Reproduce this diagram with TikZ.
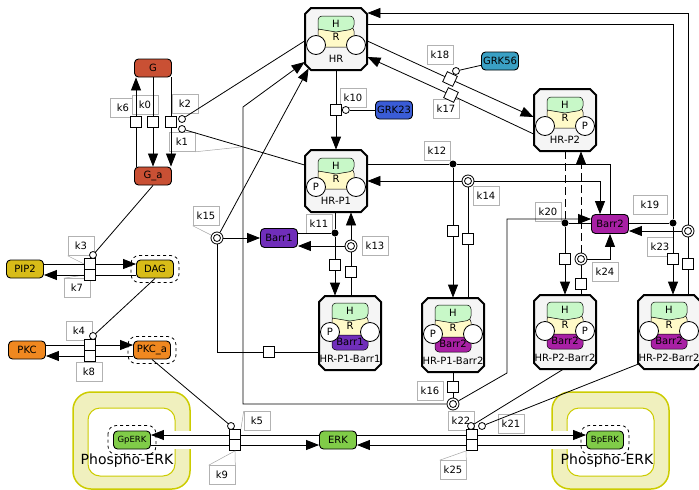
\documentclass[tikz,border=0pt]{standalone}
\usepackage{fontspec}
\setmainfont{DejaVu Sans}
\usepackage{xcolor}
\usepackage{tikz}
\usetikzlibrary{arrows.meta,positioning}

\definecolor{gcol}{RGB}{201,80,52}
\definecolor{grkfs}{RGB}{58,160,196}
\definecolor{grktt}{RGB}{58,92,214}
\definecolor{barrone}{RGB}{112,46,186}
\definecolor{barrtwo}{RGB}{168,32,164}
\definecolor{pipcol}{RGB}{216,188,24}
\definecolor{pkccol}{RGB}{240,136,32}
\definecolor{erkcol}{RGB}{128,204,72}
\definecolor{hcol}{RGB}{200,248,200}
\definecolor{rcol}{RGB}{255,250,200}
\definecolor{compfill}{RGB}{240,240,190}
\definecolor{compline}{RGB}{204,204,0}

% HR complex without arrestin
\newcommand{\hrplain}[5]{%
  \node[cplxanchor, minimum height=62pt] (#1) at #2 {};
  \begin{scope}[shift={(#1.center)}]
    \draw[cplxline] (-25,-31) -- (25,-31) -- (31,-25) -- (31,25) -- (25,31)
      -- (-25,31) -- (-31,25) -- (-31,-25) -- cycle;
    \draw[rpart] (-18,-12) -- (-18,8) -- (18,8) -- (18,-12) -- cycle;
    \draw[hpart] (-18,-10) [rounded corners=4pt] -- (-18,-23) -- (18,-23)
      -- (18,-10) [sharp corners] -- (0,-7) -- cycle;
    \node (#1-h) at (0,-15) {H};
    \node (#1-r) at (0,-2) {R};
    \node[site] (#1-ls) at (-20,6) {#4};
    \node[site] (#1-rs) at (20,6) {#5};
    \node (#1-lab) at (0,20) {#3};
  \end{scope}}

% HR complex with arrestin
\newcommand{\hrbarr}[7]{%
  \node[cplxanchor, minimum height=74pt] (#1) at #2 {};
  \begin{scope}[shift={(#1.center)}]
    \draw[cplxline] (-25,-37) -- (25,-37) -- (31,-31) -- (31,31) -- (25,37)
      -- (-25,37) -- (-31,31) -- (-31,-31) -- cycle;
    \draw[rpart] (-18,-17) -- (-18,6) -- (18,6) -- (18,-17) -- cycle;
    \draw[draw=black, line width=0.5pt, fill=#6] (-18,2) [rounded corners=4pt]
      -- (-18,17) -- (18,17) -- (18,2) [sharp corners] -- cycle;
    \node (#1-b) at (0,9) {#7};
    \draw[hpart] (-18,-15) [rounded corners=4pt] -- (-18,-30) -- (18,-30)
      -- (18,-15) [sharp corners] -- (0,-12) -- cycle;
    \node (#1-h) at (0,-22) {H};
    \node (#1-r) at (0,-7) {R};
    \node[site] (#1-ls) at (-20,-1) {#4};
    \node[site] (#1-rs) at (20,-1) {#5};
    \node (#1-lab) at (0,26) {#3};
  \end{scope}}

\begin{document}
\begin{tikzpicture}[x=1pt, y=-1pt, line width=0.8pt,
  font=\fontsize{10}{11}\selectfont,
  ent/.style={draw, line width=0.9pt, rounded corners=4pt, minimum width=37pt,
    minimum height=18pt, inner sep=0pt},
  clone/.style={dashed, rounded corners=8pt, line width=0.8pt},
  cplxanchor/.style={rectangle, draw=none, minimum width=62pt, inner sep=0pt},
  cplxline/.style={draw, line width=2pt, fill=black!4},
  hpart/.style={fill=hcol, draw=black, line width=0.5pt},
  rpart/.style={fill=rcol, draw=black, line width=0.5pt, rounded corners=4pt},
  site/.style={circle, draw, fill=white, line width=0.8pt, minimum size=19pt, inner sep=0pt},
  proc/.style={draw, fill=white, line width=0.8pt, minimum size=11pt, inner sep=0pt},
  assoc/.style={circle, fill=black, minimum size=7pt, inner sep=0pt},
  dissoc/.style={circle, draw, fill=white, minimum size=12pt, inner sep=0pt,
    path picture={\draw (path picture bounding box.center) circle (3.5pt);}},
  cat/.style={circle, draw, fill=white, minimum size=7pt, inner sep=0pt},
  klabel/.style={draw=black!30, fill=white, line width=0.6pt, minimum width=26pt,
    minimum height=19pt, inner sep=2pt},
  leader/.style={draw=black!35, line width=0.5pt},
  prod/.style={-{Triangle[length=13pt,width=10pt]}},
  comp/.style={fill=compfill, draw=compline, line width=1.5pt, rounded corners=18pt},
  compin/.style={fill=white, draw=compline, line width=1pt, rounded corners=12pt}]
\useasboundingbox (0,0) rectangle (699,490);

% compartments
\draw[comp] (73,392) rectangle (190,489);
\draw[compin] (88,408) rectangle (175,476);
\draw[comp] (552,392) rectangle (669,489);
\draw[compin] (567,408) rectangle (654,476);
\fill[white] (174,431) rectangle (191,449);
\fill[white] (551,431) rectangle (568,449);
\node[font=\fontsize{14}{16}\selectfont] (phosL) at (127,461) {Phospho-ERK};
\node[font=\fontsize{14}{16}\selectfont] (phosR) at (607,461) {Phospho-ERK};

% reaction labels
\node[klabel] (k6) at (123,108) {k6};
\node[klabel] (k0) at (145,105) {k0};
\node[klabel] (k2) at (185,104) {k2};
\node[klabel] (k1) at (182,142) {k1};
\node[klabel] (k10) at (353,98) {k10};
\node[klabel] (k18) at (440,55) {k18};
\node[klabel] (k17) at (446,109) {k17};
\node[klabel] (k12) at (437,151) {k12};
\node[klabel] (k14) at (486,196) {k14};
\node[klabel] (k15) at (206,216) {k15};
\node[klabel] (k11) at (319,224) {k11};
\node[klabel] (k13) at (375,246) {k13};
\node[klabel] (k20) at (548,212) {k20};
\node[klabel, minimum width=34pt] (k19) at (650,205) {k19};
\node[klabel] (k23) at (660,247) {k23};
\node[klabel] (k24) at (605,272) {k24};
\node[klabel] (k3) at (81,246) {k3};
\node[klabel] (k7) at (77,288) {k7};
\node[klabel] (k4) at (79,331) {k4};
\node[klabel] (k8) at (89,372) {k8};
\node[klabel] (k16) at (430,391) {k16};
\node[klabel] (k5) at (257,421) {k5};
\node[klabel] (k9) at (222,475) {k9};
\node[klabel] (k22) at (461,421) {k22};
\node[klabel] (k21) at (511,424) {k21};
\node[klabel] (k25) at (453,470) {k25};

% species
\node[ent, fill=gcol] (G) at (153,68) {G};
\node[ent, fill=gcol] (Ga) at (153,176) {G\_a};
\node[ent, fill=grkfs] (GRKfs) at (500,61) {GRK56};
\node[ent, fill=grktt] (GRKtt) at (394,110) {GRK23};
\node[ent, fill=barrone, minimum height=19pt] (BarrI) at (279,238) {Barr1};
\node[ent, fill=barrtwo, minimum height=19pt] (BarrII) at (610,224) {Barr2};
\node[ent, fill=pipcol] (PIPtwo) at (25,269) {PIP2};
\node[ent, fill=pipcol] (DAG) at (155,269) {DAG};
\node[ent, fill=pkccol] (PKC) at (27,350) {PKC};
\node[ent, fill=pkccol] (PKCa) at (152,350) {PKC\_a};
\node[ent, fill=erkcol] (ERK) at (338,440) {ERK};
\node[ent, fill=erkcol, font=\fontsize{8.5}{9}\selectfont] (GpERK) at (132,440) {GpERK};
\node[ent, fill=erkcol, font=\fontsize{8.5}{9}\selectfont] (BpERK) at (605,440) {BpERK};
\draw[clone] ([shift={(-5pt,4pt)}]DAG.north west) rectangle ([shift={(5pt,-4pt)}]DAG.south east);
\draw[clone] ([shift={(-5pt,4pt)}]PKCa.north west) rectangle ([shift={(5pt,-4pt)}]PKCa.south east);
\draw[clone] ([shift={(-5pt,5pt)}]GpERK.north west) rectangle ([shift={(5pt,-5pt)}]GpERK.south east);
\draw[clone] ([shift={(-5pt,5pt)}]BpERK.north west) rectangle ([shift={(5pt,-5pt)}]BpERK.south east);

% receptor complexes
\hrplain{HR}{(336,39)}{HR}{}{}
\hrplain{HRPone}{(336,181)}{HR-P1}{P}{}
\hrplain{HRPtwo}{(565,120)}{HR-P2}{}{P}
\hrbarr{HRPoneBone}{(350,333)}{HR-P1-Barr1}{P}{}{barrone}{Barr1}
\hrbarr{HRPoneBtwo}{(453,335)}{HR-P1-Barr2}{P}{}{barrtwo}{Barr2}
\hrbarr{HRPtwoBtwoA}{(565,332)}{HR-P2-Barr2}{}{P}{barrtwo}{Barr2}
\hrbarr{HRPtwoBtwoB}{(669,332)}{HR-P2-Barr2}{}{}{barrtwo}{Barr2}

% process nodes
\node[proc] (p6) at (136,122) {};
\node[proc] (p0) at (153,122) {};
\node[proc] (p1) at (171,122) {};
\node[proc] (p3) at (90,264) {};
\node[proc] (p7) at (90,275) {};
\node[proc] (p4) at (90,345) {};
\node[proc] (p8) at (90,356) {};
\node[proc] (p10) at (336,110) {};
\node[proc, rotate=-25] (p18) at (450,79) {};
\node[proc, rotate=-25] (p17) at (451,95) {};
\node[proc] (p11) at (335,265) {};
\node[proc] (p13) at (351,272) {};
\node[proc] (p12) at (453,231) {};
\node[proc] (p14) at (468,239) {};
\node[proc] (p15) at (269,352) {};
\node[proc] (p16) at (453,387) {};
\node[proc] (p20) at (565,259) {};
\node[proc] (p24) at (581,284) {};
\node[proc] (p19) at (673,259) {};
\node[proc] (p23) at (688,264) {};
\node[proc] (p5) at (235,435) {};
\node[proc] (p9) at (235,445) {};
\node[proc] (p22) at (472,435) {};
\node[proc] (p25) at (472,445) {};

% modulation circles, association and dissociation glyphs
\node[cat] (c2) at (182,119) {};
\node[cat] (c1) at (182,129) {};
\node[cat] (c3) at (93,255) {};
\node[cat] (c4) at (93,336) {};
\node[cat, right=0pt of p10] (c10) {};
\node[cat] (c18) at (456,71) {};
\node[cat] (c5) at (231,426) {};
\node[cat] (c22) at (471,426) {};
\node[cat] (c21) at (482,426) {};
\node[assoc] (d11) at (335,233) {};
\node[assoc] (d12) at (453,164) {};
\node[assoc] (d20) at (565,223) {};
\node[assoc] (d19) at (673,223) {};
\node[dissoc] (c13) at (351,246) {};
\node[dissoc] (c14) at (468,181) {};
\node[dissoc] (c15) at (217,238) {};
\node[dissoc] (c16) at (453,404) {};
\node[dissoc] (c23) at (688,231) {};
\node[dissoc] (c24) at (581,259) {};
\coordinate (k16bend) at (243,107);
\coordinate (k16up) at (507,373);
\coordinate (k1tip) at (241,147);

% label pointers
\draw[leader] (k1.south east) -- (k1tip);
\draw[leader] (k5.north west) -- (p5.north east);
\draw[leader] (k9.north west) -- (p9.south) -- (k9.north east);
\draw[leader] (k25.north west) -- (p25.south west) -- (k25.north east);
\draw[leader] (k15.south west) -- (c15);
\draw[leader] (k3.south west) -- (p3.west);
\draw[leader] (k7.north west) -- (p7.west);

% G activation
\draw (p6 |- Ga.north) -- (p6);
\draw[prod] (p6) -- (p6 |- G.south);
\draw (p0 |- G.south) -- (p0);
\draw[prod] (p0) -- (p0 |- Ga.north);
\draw (p1 |- G.south) -- (p1);
\draw[prod] (p1) -- (p1 |- Ga.north);
\draw (c2) -- ([yshift=-2pt]HR.west);
\draw (c1) -- ([yshift=16pt]HRPone.west);
% PIP2 / DAG
\draw (PIPtwo.east |- p3) -- (p3);
\draw[prod] (p3) -- (DAG.west |- p3);
\draw (DAG.west |- p7) -- (p7);
\draw[prod] (p7) -- (PIPtwo.east |- p7);
\draw (Ga.south) -- (c3);
% PKC
\draw (PKC.east |- p4) -- (p4);
\draw[prod] (p4) -- (PKCa.west |- p4);
\draw (PKCa.west |- p8) -- (p8);
\draw[prod] (p8) -- (PKC.east |- p8);
\draw (DAG.south) -- (c4);
% ERK phosphorylation
\draw (ERK.west |- p5) -- (p5);
\draw[prod] (p5) -- (GpERK.east |- p5);
\draw (GpERK.east |- p9) -- (p9);
\draw[prod] (p9) -- (ERK.west |- p9);
\draw (PKCa.south) -- (c5);
\draw (ERK.east |- p22) -- (p22);
\draw[prod] (p22) -- (BpERK.west |- p22);
\draw (BpERK.west |- p25) -- (p25);
\draw[prod] (p25) -- (ERK.east |- p25);
\draw (c22) -- ([xshift=-2pt]HRPtwoBtwoA.south);
\draw (c21) -- ([shift={(-29pt,6pt)}]HRPtwoBtwoB.south);
% receptor phosphorylation
\draw (HR.south) -- (p10);
\draw[prod] (p10) -- (HRPone.north);
\draw (c10) -- (GRKtt);
\draw ([yshift=-2pt]HR.east) -- (p18);
\draw[prod] (p18) -- ([yshift=3pt]HRPtwo.west);
\draw ([yshift=-14pt]HRPtwo.west) -- (p17);
\draw[prod] (p17) -- ([yshift=-18pt]HR.east);
\draw (c18) -- (GRKfs);
% arrestin binding to HR-P1
\draw (HRPone.east |- d12) -- (d12);
\draw (d12) -| (BarrII.north);
\draw (d12) -- (p12);
\draw[prod] (p12) -- (p12 |- HRPoneBtwo.north);
\draw (p14 |- HRPoneBtwo.north) -- (p14);
\draw (p14) -- (c14);
\draw[prod] (c14) -- (HRPone.east |- c14);
\draw[prod] (c14) -| ([xshift=-10pt]BarrII.north);
\draw (d11 |- HRPone.south) -- (d11);
\draw (BarrI.east |- d11) -- (d11);
\draw (d11) -- (p11);
\draw[prod] (p11) -- (p11 |- HRPoneBone.north);
\draw (p13 |- HRPoneBone.north) -- (p13);
\draw (p13) -- (c13);
\draw[prod] (c13) -- (c13 |- HRPone.south);
\draw[prod] (c13) -- (BarrI.east |- c13);
% internalisation
\draw (HRPoneBone.west |- p15) -- (p15);
\draw (p15) -| (c15);
\draw[prod] (c15) -- (BarrI.west);
\draw[prod] (c15) -- ([shift={(4pt,2pt)}]HR.south west);
\draw (p16 |- HRPoneBtwo.south) -- (p16);
\draw (p16) -- (c16);
\draw[prod] (c16) -| (k16bend) -- ([yshift=-23pt]HR.west);
\draw[prod] (c16) -- (k16up) |- ([yshift=5pt]BarrII.west);
% arrestin binding to HR-P2
\draw[dash pattern=on 8pt off 4pt] (d20 |- HRPtwo.south) -- (d20);
\draw (d20) -- (BarrII.west |- d20);
\draw (d20) -- (p20);
\draw[prod] (p20) -- (p20 |- HRPtwoBtwoA.north);
\draw (p24 |- HRPtwoBtwoA.north) -- (p24);
\draw (p24) -- (c24);
\draw[prod, dash pattern=on 8pt off 4pt] (c24) -- (c24 |- HRPtwo.south);
\draw[prod] (c24) -| (BarrII.south);
\draw ([yshift=15pt]HR.east) -| (d19);
\draw (BarrII.east |- d19) -- (d19);
\draw (d19) -- (p19);
\draw[prod] (p19) -- (p19 |- HRPtwoBtwoB.north);
\draw (p23 |- HRPtwoBtwoB.north) -- (p23);
\draw (p23) -- (c23);
\draw[prod] (c23) |- ([yshift=26pt]HR.east);
\draw[prod] (c23) -- (BarrII.east |- c23);
\end{tikzpicture}
\end{document}
